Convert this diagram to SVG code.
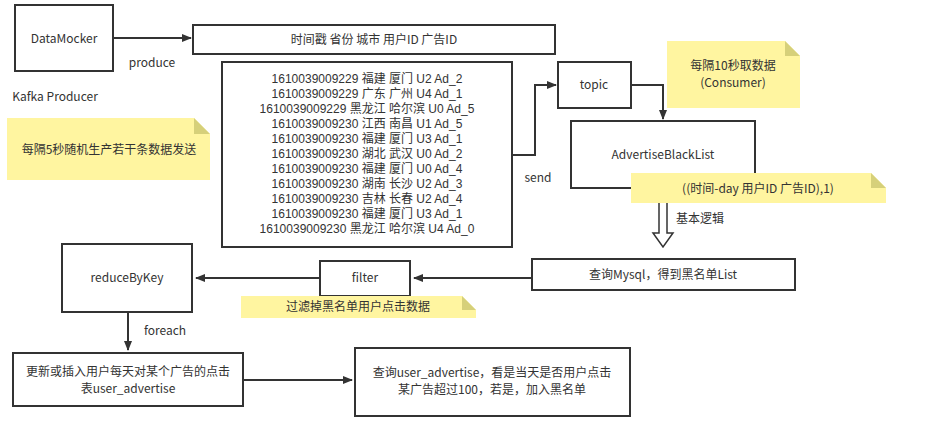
<svg xmlns="http://www.w3.org/2000/svg" width="926" height="421" viewBox="0 0 926 421">
<style>
.b{fill:#fff;stroke:#333;stroke-width:2}
.n{fill:#fff5a0}
.f{fill:#d6d07a}
text{font-family:"Noto Sans CJK SC","Liberation Sans",sans-serif;font-size:12px;fill:#333;text-anchor:middle}
.d{font-family:"Liberation Sans","Noto Sans CJK SC",sans-serif;font-size:12px}
.l{stroke:#333;stroke-width:2;fill:none}
</style>
<defs><marker id="a" markerWidth="10" markerHeight="10" refX="9" refY="5" orient="auto" markerUnits="userSpaceOnUse"><path d="M0,1 L10,5 L0,9 Z" fill="#333"/></marker></defs>
<rect width="926" height="421" fill="#fff"/>
<g id="connectors">
<path class="l" d="M113,38 H191" marker-end="url(#a)"/>
<path class="l" d="M512,155 H535 V85 H556" marker-end="url(#a)"/>
<path class="l" d="M631,85 H663 V119" marker-end="url(#a)"/>
<path d="M659,203 V233 H653 L663,247 L673,233 H667 V203" fill="#fff" stroke="#333" stroke-width="1.5"/>
<path class="l" d="M532,278 H414" marker-end="url(#a)"/>
<path class="l" d="M320,278 H196" marker-end="url(#a)"/>
<path class="l" d="M128,312 V350" marker-end="url(#a)"/>
<path class="l" d="M243,380 H352" marker-end="url(#a)"/>
<text x="152" y="67">produce</text>
<text x="538" y="182">send</text>
<text x="700" y="223">基本逻辑</text>
<text x="165" y="335">foreach</text>
</g>
<g id="datamocker"><rect class="b" x="15" y="5" width="98" height="66"/><text x="64" y="43">DataMocker</text></g>
<text x="55" y="101">Kafka Producer</text>
<g id="note1"><path class="n" d="M7,118 H194 L210,134 V180 H7 Z"/><path class="f" d="M194,118 L210,134 H194 Z"/><text x="109" y="154">每隔5秒随机生产若干条数据发送</text></g>
<g id="header"><rect class="b" x="193" y="25" width="362" height="29"/><text x="374" y="44">时间戳 省份 城市 用户ID 广告ID</text></g>
<g id="data"><rect class="b" x="222" y="62" width="290" height="185"/>
<text class="d" x="367" y="83">1610039009229 福建 厦门 U2 Ad_2</text>
<text class="d" x="367" y="98">1610039009229 广东 广州 U4 Ad_1</text>
<text class="d" x="367" y="113">1610039009229 黑龙江 哈尔滨 U0 Ad_5</text>
<text class="d" x="367" y="128">1610039009230 江西 南昌 U1 Ad_5</text>
<text class="d" x="367" y="143">1610039009230 福建 厦门 U3 Ad_1</text>
<text class="d" x="367" y="158">1610039009230 湖北 武汉 U0 Ad_2</text>
<text class="d" x="367" y="173">1610039009230 福建 厦门 U0 Ad_4</text>
<text class="d" x="367" y="188">1610039009230 湖南 长沙 U2 Ad_3</text>
<text class="d" x="367" y="203">1610039009230 吉林 长春 U2 Ad_4</text>
<text class="d" x="367" y="218">1610039009230 福建 厦门 U3 Ad_1</text>
<text class="d" x="367" y="233">1610039009230 黑龙江 哈尔滨 U4 Ad_0</text></g>
<g id="topic"><rect class="b" x="558" y="62" width="73" height="46"/><text x="594" y="89">topic</text></g>
<g id="note2"><path class="n" d="M667,41 H785 L800,56 V108 H667 Z"/><path class="f" d="M785,41 L800,56 H785 Z"/><text x="733" y="70">每隔10秒取数据</text><text x="733" y="87">(Consumer)</text></g>
<g id="abl"><rect class="b" x="571" y="121" width="184" height="67"/><text x="663" y="159">AdvertiseBlackList</text></g>
<g id="note3"><path class="n" d="M631,173 H871 L886,188 V203 H631 Z"/><path class="f" d="M871,173 L886,188 H871 Z"/><text x="758" y="193">((时间-day 用户ID 广告ID),1)</text></g>
<g id="mysql"><rect class="b" x="532" y="259" width="263" height="31"/><text x="663" y="279">查询Mysql，得到黑名单List</text></g>
<g id="filter"><rect class="b" x="320" y="261" width="90" height="35"/><text x="365" y="282">filter</text></g>
<g id="note4"><path class="n" d="M241,296 H462 L476,310 V318 H241 Z"/><path class="f" d="M462,296 L476,310 H462 Z"/><text x="358" y="311">过滤掉黑名单用户点击数据</text></g>
<g id="reduce"><rect class="b" x="62" y="244" width="130" height="68"/><text x="127" y="282">reduceByKey</text></g>
<g id="update"><rect class="b" x="13" y="353" width="230" height="53"/><text x="128" y="376">更新或插入用户每天对某个广告的点击</text><text x="128" y="393">表user_advertise</text></g>
<g id="query"><rect class="b" x="355" y="348" width="275" height="68"/><text x="492" y="377">查询user_advertise，看是当天是否用户点击</text><text x="492" y="394">某广告超过100，若是，加入黑名单</text></g>
</svg>
